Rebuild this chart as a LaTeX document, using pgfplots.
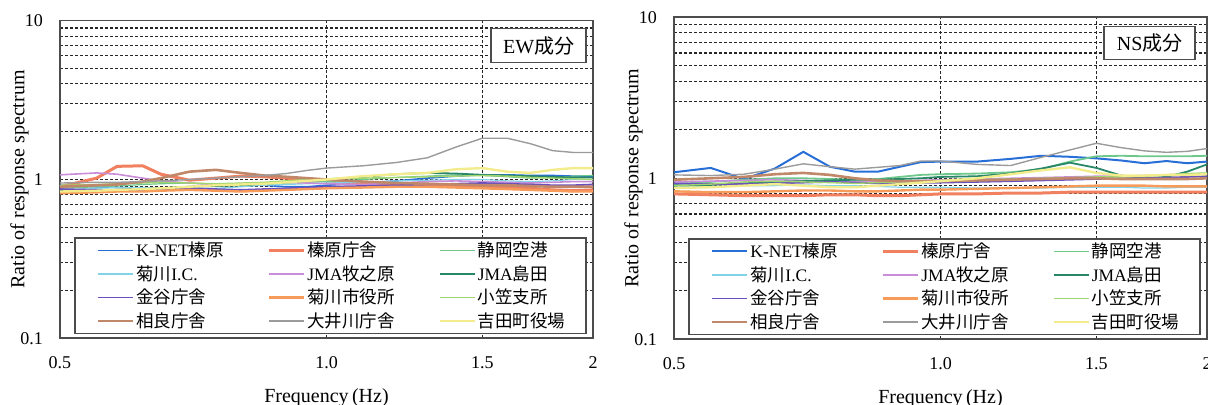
\documentclass[border=0pt]{standalone}
\usepackage{pgfplots}
\pgfplotsset{compat=1.18}
\usepackage{pgfplotstable}
\usepackage{fontspec}
\setmainfont{Liberation Serif}
\newfontfamily\cjk{Noto Sans CJK JP}

\definecolor{cKnet}{RGB}{40,110,215}
\definecolor{cHaib}{RGB}{240,128,96}
\definecolor{cShiz}{RGB}{110,200,140}
\definecolor{cKIC}{RGB}{130,210,232}
\definecolor{cMaki}{RGB}{200,140,216}
\definecolor{cShim}{RGB}{40,135,105}
\definecolor{cKana}{RGB}{105,80,190}
\definecolor{cKcity}{RGB}{247,155,90}
\definecolor{cOgasa}{RGB}{160,212,110}
\definecolor{cSagara}{RGB}{192,135,105}
\definecolor{cOigawa}{RGB}{155,155,155}
\definecolor{cYosh}{RGB}{242,236,140}

\pgfplotstableread{
f     knet  haib  shiz  kIC   maki  shim  kana  kcity ogasa sagar oiga  yosh
0.50  0.92  0.90  0.88  0.86  1.07  0.85  0.87  0.82  0.92  0.90  0.95  0.84
0.55  0.90  1.02  0.90  0.88  1.10  0.86  0.86  0.83  0.93  0.92  0.96  0.85
0.58  0.89  1.21  0.91  0.89  1.08  0.86  0.85  0.84  0.94  0.93  0.96  0.86
0.62  0.88  1.22  0.93  0.89  1.02  0.87  0.85  0.84  0.95  0.97  0.97  0.87
0.65  0.88  1.08  0.94  0.88  0.98  0.88  0.86  0.85  0.96  1.02  0.98  0.88
0.70  0.90  0.99  0.95  0.87  0.95  0.90  0.88  0.86  0.95  1.12  1.00  0.90
0.75  0.92  1.02  0.93  0.88  0.93  0.91  0.87  0.85  0.94  1.15  1.02  0.92
0.80  0.93  1.05  0.92  0.90  0.94  0.92  0.86  0.84  0.95  1.10  1.04  0.93
0.85  0.92  1.04  0.93  0.92  0.95  0.94  0.87  0.85  0.96  1.06  1.06  0.94
0.90  0.90  1.02  0.95  0.93  0.96  0.96  0.88  0.86  0.98  1.04  1.09  0.96
0.95  0.90  1.00  0.96  0.94  0.95  0.98  0.89  0.87  1.00  1.02  1.14  0.98
1.00  0.92  0.98  0.97  0.95  0.94  1.00  0.90  0.88  1.01  1.00  1.18  1.00
1.10  0.95  0.95  1.00  0.96  0.93  1.04  0.91  0.89  1.02  0.97  1.22  1.05
1.20  0.98  0.93  1.03  0.98  0.95  1.08  0.92  0.90  1.03  0.95  1.28  1.08
1.30  1.02  0.92  1.05  0.99  0.97  1.10  0.93  0.90  1.04  0.94  1.37  1.10
1.40  1.05  0.92  1.07  1.00  0.98  1.09  0.94  0.89  1.05  0.93  1.60  1.16
1.50  1.07  0.90  1.06  1.00  0.97  1.07  0.95  0.88  1.06  0.92  1.82  1.18
1.60  1.07  0.90  1.04  0.98  0.96  1.06  0.94  0.87  1.05  0.92  1.82  1.12
1.70  1.06  0.88  1.02  0.97  0.95  1.05  0.93  0.86  1.03  0.91  1.68  1.10
1.80  1.06  0.86  1.03  0.98  0.96  1.04  0.92  0.85  1.02  0.90  1.52  1.15
1.90  1.05  0.85  1.05  1.00  0.97  1.03  0.92  0.84  1.01  0.90  1.48  1.18
2.00  1.05  0.86  1.06  1.00  0.97  1.03  0.93  0.84  1.00  0.90  1.48  1.18
}\ew

\pgfplotstableread{
f     knet  haib  shiz  kIC   maki  shim  kana  kcity ogasa sagar oiga  yosh
0.50  1.09  0.80  0.92  0.88  0.95  0.90  0.93  0.83  0.90  0.98  1.05  0.87
0.55  1.16  0.79  0.95  0.89  0.96  0.91  0.92  0.82  0.92  1.00  1.04  0.88
0.60  0.99  0.78  0.98  0.90  0.97  0.93  0.92  0.82  0.95  1.02  1.06  0.90
0.65  1.15  0.78  1.00  0.90  0.98  0.95  0.93  0.83  0.96  1.06  1.14  0.92
0.70  1.46  0.78  1.00  0.91  0.97  0.96  0.94  0.84  0.95  1.08  1.23  0.90
0.75  1.18  0.79  0.99  0.90  0.96  0.97  0.95  0.84  0.94  1.05  1.18  0.88
0.80  1.10  0.79  0.98  0.90  0.95  0.98  0.94  0.83  0.93  1.00  1.14  0.88
0.85  1.10  0.78  0.99  0.89  0.95  0.98  0.93  0.83  0.94  0.97  1.17  0.90
0.90  1.18  0.78  1.02  0.88  0.96  0.99  0.93  0.84  0.95  0.96  1.20  0.92
0.95  1.26  0.79  1.05  0.88  0.97  1.00  0.94  0.85  0.96  0.96  1.28  0.94
1.00  1.27  0.80  1.06  0.88  0.98  1.02  0.94  0.85  0.97  0.96  1.28  0.96
1.10  1.27  0.80  1.07  0.87  0.99  1.03  0.95  0.86  0.98  0.97  1.22  1.00
1.20  1.32  0.81  1.09  0.87  1.00  1.07  0.96  0.87  0.99  0.98  1.20  1.06
1.30  1.38  0.81  1.14  0.87  1.01  1.15  0.97  0.88  1.00  0.99  1.35  1.12
1.40  1.36  0.82  1.27  0.88  1.02  1.25  0.98  0.89  1.01  1.00  1.50  1.17
1.50  1.33  0.82  1.37  0.88  1.03  1.16  0.99  0.90  1.02  1.00  1.65  1.08
1.60  1.29  0.82  1.38  0.88  1.03  1.04  1.00  0.90  1.02  0.99  1.55  1.04
1.70  1.24  0.82  1.37  0.87  1.04  1.00  1.00  0.90  1.03  0.99  1.48  1.04
1.80  1.28  0.82  1.37  0.87  1.05  1.02  1.01  0.89  1.05  0.99  1.45  1.05
1.90  1.24  0.82  1.37  0.88  1.06  1.10  1.02  0.89  1.07  0.99  1.47  1.05
2.00  1.27  0.82  1.38  0.88  1.07  1.22  1.03  0.89  1.08  1.00  1.53  1.06
}\ns

\newcommand{\LE}[2]{\addlegendentry{\makebox[#1][l]{#2}}}

\pgfplotsset{
  resp/.style={
    scale only axis, width=266.5pt,
    xmin=0.5, xmax=2, ymin=0.1, ymax=10,
    xtick={0.5,1,1.5,2}, xticklabels={0.5,1.0,1.5,2},
    ytick={0.1,1,10}, yticklabels={0.1,1,10},
    minor xtick={},
    minor ytick={0.2,0.3,0.4,0.5,0.6,0.7,0.8,0.9,2,3,4,5,6,7,8,9},
    xmajorgrids=true, ymajorgrids=true, yminorgrids=true, xminorgrids=false,
    major grid style={black!85, line width=0.55pt, dash pattern=on 1.6pt off 0.9pt},
    minor grid style={black!85, line width=0.55pt, dash pattern=on 1.6pt off 0.9pt},
    major tick length=0pt, minor tick length=0pt,
    axis line style={black!70, line width=0.8pt},
    tick label style={font=\fontsize{9}{10}\selectfont},
    xticklabel style={yshift=-5.5pt},
    yticklabel style={xshift=-5pt},
    xlabel={Frequency\,(Hz)}, ylabel={Ratio of response spectrum},
    label style={font=\fontsize{10}{12}\selectfont},
    xlabel style={at={(axis description cs:0.5,0)}, anchor=base, yshift=-32pt},
    ylabel style={at={(axis description cs:-0.076,0.5)}, anchor=center},
    legend columns=3, legend cell align=left,
    legend image code/.code={\draw[##1] (0pt,0pt) -- (17.5pt,0pt);},
    legend style={at={(axis description cs:0.0263,0.0126)}, anchor=south west,
      draw=black!70, line width=0.8pt, fill=white,
      inner xsep=11pt, inner ysep=0.5pt, row sep=0.25pt,
      font=\fontsize{8.75}{10}\selectfont,
      nodes={inner sep=1pt, text height=0.8em, text depth=0.15em},
      /tikz/every even column/.append style={column sep=6.5pt}}
  }
}

\begin{document}
\begin{tikzpicture}
\path[use as bounding box] (0,0) rectangle (604pt,202.5pt);

\begin{loglogaxis}[resp, height=158.8pt, at={(30pt,33.35pt)}, anchor=south west]
\addplot[cKnet, line width=0.8pt] table[x=f,y=knet]{\ew}; \LE{58pt}{K-NET{\cjk 榛原}}
\addplot[cHaib, line width=1.5pt] table[x=f,y=haib]{\ew}; \LE{58pt}{{\cjk 榛原庁舎}}
\addplot[cShiz, line width=0.6pt] table[x=f,y=shiz]{\ew}; \LE{42pt}{{\cjk 静岡空港}}
\addplot[cKIC, line width=0.6pt] table[x=f,y=kIC]{\ew}; \LE{58pt}{{\cjk 菊川}I.C.}
\addplot[cMaki, line width=0.8pt] table[x=f,y=maki]{\ew}; \LE{58pt}{JMA{\cjk 牧之原}}
\addplot[cShim, line width=0.9pt] table[x=f,y=shim]{\ew}; \LE{42pt}{JMA{\cjk 島田}}
\addplot[cKana, line width=0.9pt] table[x=f,y=kana]{\ew}; \LE{58pt}{{\cjk 金谷庁舎}}
\addplot[cKcity, line width=1.2pt] table[x=f,y=kcity]{\ew}; \LE{58pt}{{\cjk 菊川市役所}}
\addplot[cOgasa, line width=0.7pt] table[x=f,y=ogasa]{\ew}; \LE{42pt}{{\cjk 小笠支所}}
\addplot[cSagara, line width=1.3pt] table[x=f,y=sagar]{\ew}; \LE{58pt}{{\cjk 相良庁舎}}
\addplot[cOigawa, line width=0.7pt] table[x=f,y=oiga]{\ew}; \LE{58pt}{{\cjk 大井川庁舎}}
\addplot[cYosh, line width=1.2pt] table[x=f,y=yosh]{\ew}; \LE{42pt}{{\cjk 吉田町役場}}
\node[draw=black!70, line width=0.8pt, fill=white, minimum width=47.5pt,
  minimum height=17pt, inner sep=0pt, anchor=north east,
  font=\fontsize{10}{12}\selectfont] at (rel axis cs:0.9887,0.978) {EW{\cjk 成分}};
\end{loglogaxis}

\begin{loglogaxis}[resp, height=161pt, at={(337pt,32.85pt)}, anchor=south west]
\addplot[cKnet, line width=1pt] table[x=f,y=knet]{\ns}; \LE{58pt}{K-NET{\cjk 榛原}}
\addplot[cHaib, line width=1.5pt] table[x=f,y=haib]{\ns}; \LE{58pt}{{\cjk 榛原庁舎}}
\addplot[cShiz, line width=0.9pt] table[x=f,y=shiz]{\ns}; \LE{42pt}{{\cjk 静岡空港}}
\addplot[cKIC, line width=0.6pt] table[x=f,y=kIC]{\ns}; \LE{58pt}{{\cjk 菊川}I.C.}
\addplot[cMaki, line width=0.8pt] table[x=f,y=maki]{\ns}; \LE{58pt}{JMA{\cjk 牧之原}}
\addplot[cShim, line width=0.9pt] table[x=f,y=shim]{\ns}; \LE{42pt}{JMA{\cjk 島田}}
\addplot[cKana, line width=0.9pt] table[x=f,y=kana]{\ns}; \LE{58pt}{{\cjk 金谷庁舎}}
\addplot[cKcity, line width=1.2pt] table[x=f,y=kcity]{\ns}; \LE{58pt}{{\cjk 菊川市役所}}
\addplot[cOgasa, line width=0.7pt] table[x=f,y=ogasa]{\ns}; \LE{42pt}{{\cjk 小笠支所}}
\addplot[cSagara, line width=1.3pt] table[x=f,y=sagar]{\ns}; \LE{58pt}{{\cjk 相良庁舎}}
\addplot[cOigawa, line width=0.7pt] table[x=f,y=oiga]{\ns}; \LE{58pt}{{\cjk 大井川庁舎}}
\addplot[cYosh, line width=1.2pt] table[x=f,y=yosh]{\ns}; \LE{42pt}{{\cjk 吉田町役場}}
\node[draw=black!70, line width=0.8pt, fill=white, minimum width=45.5pt,
  minimum height=16.5pt, inner sep=0pt, anchor=north east,
  font=\fontsize{10}{12}\selectfont] at (rel axis cs:0.9794,0.9733) {NS{\cjk 成分}};
\end{loglogaxis}
\end{tikzpicture}
\end{document}
